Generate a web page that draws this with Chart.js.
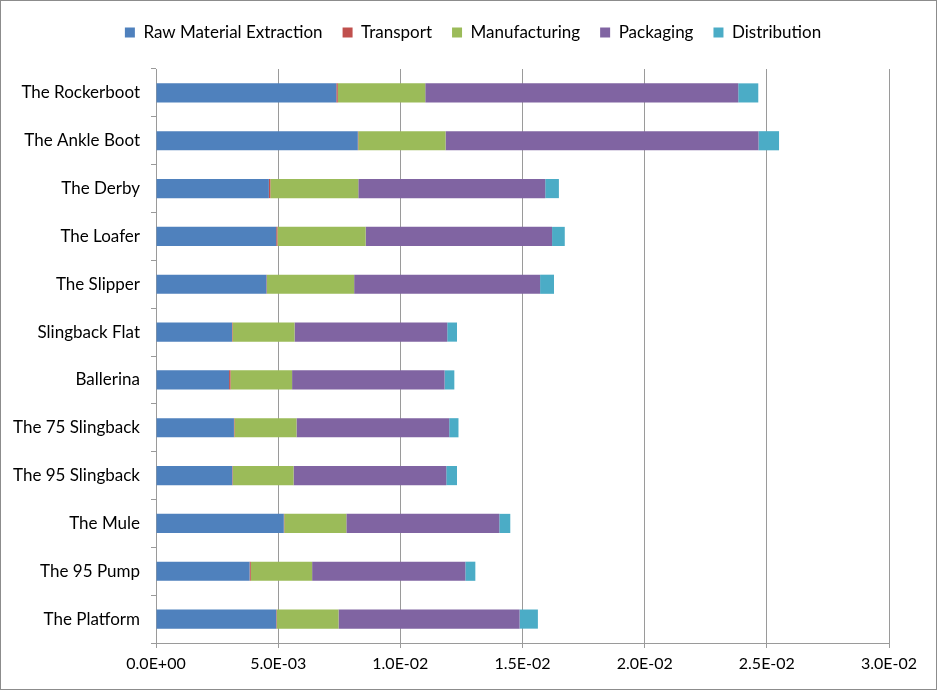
<!DOCTYPE html>
<html>
<head>
<meta charset="utf-8">
<script src="https://cdn.jsdelivr.net/npm/chart.js@4.4.1/dist/chart.umd.min.js"></script>
<style>
  html, body { margin: 0; padding: 0; background: #fff; }
  #wrap { position: relative; width: 935px; height: 688px; border: 1px solid #8c8c8c; }
</style>
</head>
<body>
<div id="wrap"><canvas id="barChart"></canvas></div>
<script>
// categories, top to bottom
const shoes = ['The Rockerboot', 'The Ankle Boot', 'The Derby', 'The Loafer', 'The Slipper',
  'Slingback Flat', 'Ballerina', 'The 75 Slingback', 'The 95 Slingback', 'The Mule',
  'The 95 Pump', 'The Platform'];

// values (x 1e-3)
const rawMaterial   = [7.38, 8.26, 4.62, 4.92, 4.52, 3.11, 2.99, 3.19, 3.12, 5.23, 3.83, 4.92];
const transport     = [0.06, 0.02, 0.06, 0.05, 0.02, 0.02, 0.06, 0.02, 0.02, 0.02, 0.05, 0.02];
const manufacturing = [3.58, 3.57, 3.60, 3.61, 3.57, 2.54, 2.52, 2.54, 2.49, 2.54, 2.51, 2.53];
const packaging     = [12.81, 12.81, 7.65, 7.63, 7.61, 6.25, 6.24, 6.25, 6.25, 6.26, 6.27, 7.41];
const distribution  = [0.82, 0.84, 0.56, 0.52, 0.57, 0.40, 0.40, 0.38, 0.44, 0.45, 0.41, 0.75];

const xTicks = [0, 0.005, 0.01, 0.015, 0.02, 0.025, 0.03];

const seriesNames = ['Raw Material Extraction', 'Transport', 'Manufacturing', 'Packaging', 'Distribution'];
const seriesColors = ['#4F81BD', '#C0504D', '#9BBB59', '#8064A2', '#4BACC6'];
const seriesValues = [rawMaterial, transport, manufacturing, packaging, distribution];

const FONT = "Lato, sans-serif";

function sci(v) {
  if (v === 0) return '0.0E+00';
  let e = Math.floor(Math.log10(Math.abs(v)) + 1e-9);
  let m = v / Math.pow(10, e);
  let sign = e < 0 ? '-' : '+';
  let ee = String(Math.abs(e)).padStart(2, '0');
  return m.toFixed(1) + 'E' + sign + ee;
}

var datasets = seriesNames.map(function (name, i) {
  return {
    label: name,
    data: seriesValues[i].map(v => v / 1000),
    backgroundColor: seriesColors[i],
    borderWidth: 0,
    barPercentage: 0.8,
    categoryPercentage: 0.5
  };
});

// push the plot area down below the legend, and move the legend a bit right
const legendGap = {
  id: 'legendGap',
  beforeInit(chart) {
    const fit = chart.legend.fit;
    chart.legend.fit = function () {
      fit.bind(chart.legend)();
      this.height += 18;
    };
  },
  afterLayout(chart) {
    chart.legend.left += 28;
    chart.legend.right += 28;
  }
};

var config = {
  type: 'bar',
  data: { labels: shoes, datasets: datasets },
  plugins: [legendGap],
  options: {
    indexAxis: 'y',
    responsive: true,
    maintainAspectRatio: false,
    animation: false,
    layout: { padding: { left: 0, right: 47, top: 3, bottom: 0 } },
    plugins: {
      tooltip: { enabled: false },
      legend: {
        position: 'top',
        labels: {
          font: { family: FONT, size: 17 },
          color: '#000',
          boxWidth: 10,
          boxHeight: 10,
          padding: 20
        }
      }
    },
    scales: {
      x: {
        stacked: true,
        min: 0,
        max: 0.03,
        afterBuildTicks: function (scale) {
          scale.ticks = xTicks.map(v => ({ value: v }));
        },
        afterFit: function (scale) { scale.height = 46; },
        ticks: {
          callback: function (v) { return sci(v); },
          font: { family: FONT, size: 16 },
          color: '#000',
          maxRotation: 0,
          padding: 6
        },
        grid: { color: '#9a9a9a', tickLength: 5, drawTicks: true },
        border: { color: '#9a9a9a' }
      },
      y: {
        stacked: true,
        afterFit: function (scale) { scale.width = 155; },
        ticks: {
          font: { family: FONT, size: 17 },
          color: '#000',
          padding: 11
        },
        grid: { offset: true, drawOnChartArea: false, color: '#9a9a9a', tickLength: 5 },
        border: { color: '#9a9a9a' }
      }
    }
  }
};

var ctx = document.getElementById('barChart').getContext('2d');
var myChart = new Chart(ctx, config);
</script>
</body>
</html>
